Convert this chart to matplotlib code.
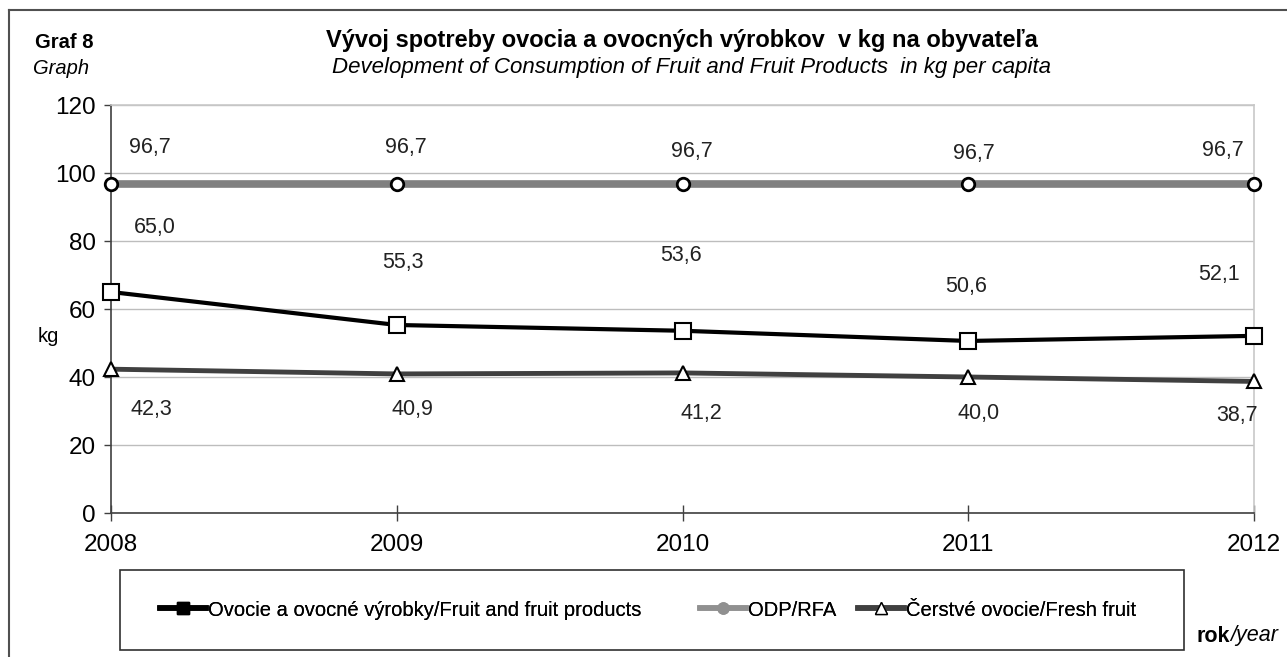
import matplotlib
matplotlib.use("Agg")
import matplotlib.pyplot as plt
from matplotlib.lines import Line2D
from matplotlib.patches import Rectangle

plt.rcParams["font.family"] = ["Liberation Sans", "DejaVu Sans"]

# ==========================================
# Data
# ==========================================

years = [2008, 2009, 2010, 2011, 2012]
fruit_products = [65.0, 55.3, 53.6, 50.6, 52.1]
odp = [96.7, 96.7, 96.7, 96.7, 96.7]
fresh_fruit = [42.3, 40.9, 41.2, 40.0, 38.7]

labels = [
    "Ovocie a ovocné výrobky/Fruit and fruit products",
    "ODP/RFA",
    "Čerstvé ovocie/Fresh fruit",
]

# label offsets in pixels (dx, dy) from each point
odp_off = [(39, 37), (9, 37), (9, 33), (6, 31), (-31, 34)]
fruit_off = [(44, 64), (6, 62), (-2, 75), (-2, 54), (-35, 61)]
fresh_off = [(40, -40), (16, -36), (19, -41), (10, -36), (-17, -34)]

# ==========================================
# Figure
# ==========================================

W, H = 1287, 657
fig = plt.figure(figsize=(W / 100, H / 100), dpi=100)
ax = fig.add_axes([111 / W, 1 - 513 / H, 1143 / W, 408 / H])


def fx(px):
    return px / W


def fy(py):
    return 1 - py / H


ax.set_xlim(2008, 2012)
ax.set_ylim(0, 120)
ax.set_xticks(years)
ax.set_yticks(range(0, 121, 20))
ax.yaxis.grid(True, color="#bdbdbd", linewidth=1)
ax.set_axisbelow(True)

for s in ["top", "right"]:
    ax.spines[s].set_color("#c8c8c8")
    ax.spines[s].set_linewidth(1.2)
for s in ["left", "bottom"]:
    ax.spines[s].set_color("#404040")
    ax.spines[s].set_linewidth(1.2)

ax.tick_params(axis="y", direction="out", length=5, width=1, color="#404040",
               labelsize=17.5, pad=6)
ax.tick_params(axis="x", direction="inout", length=12, width=1, color="#404040",
               labelsize=17.5, pad=9)

# ==========================================
# Lines
# ==========================================

ax.plot(years, odp, color="#808080", linewidth=5.5, marker="o",
        markersize=9, markerfacecolor="white", markeredgecolor="black",
        markeredgewidth=2, clip_on=False, zorder=3)

ax.plot(years, fruit_products, color="black", linewidth=3, marker="s",
        markersize=11, markerfacecolor="white", markeredgecolor="black",
        markeredgewidth=1.5, clip_on=False, zorder=4)

ax.plot(years, fresh_fruit, color="#404040", linewidth=3.5, marker="^",
        markersize=10, markerfacecolor="white", markeredgecolor="black",
        markeredgewidth=1.5, clip_on=False, zorder=4)


def fmt(v):
    return f"{v:.1f}".replace(".", ",")


for vals, offs in [(odp, odp_off), (fruit_products, fruit_off), (fresh_fruit, fresh_off)]:
    for x, v, (dx, dy) in zip(years, vals, offs):
        ax.annotate(fmt(v), (x, v), xytext=(dx, dy), textcoords="offset pixels",
                    ha="center", va="center", fontsize=15.5, color="#222222",
                    annotation_clip=False)

# ==========================================
# Texts
# ==========================================

fig.text(fx(682), fy(40), "Vývoj spotreby ovocia a ovocných výrobkov  v kg na obyvateľa",
         ha="center", va="center", fontsize=17, fontweight="bold")
fig.text(fx(692), fy(67), "Development of Consumption of Fruit and Fruit Products  in kg per capita",
         ha="center", va="center", fontsize=16, fontstyle="italic")
fig.text(fx(35), fy(43), "Graf 8", ha="left", va="center", fontsize=14.5, fontweight="bold")
fig.text(fx(33), fy(68), "Graph", ha="left", va="center", fontsize=14.5, fontstyle="italic")
fig.text(fx(48), fy(337), "kg", ha="center", va="center", fontsize=14.5)

t = fig.text(fx(1197), fy(636), "rok", ha="left", va="center", fontsize=15.5, fontweight="bold")
fig.canvas.draw()
bb = t.get_window_extent()
fig.text(bb.x1 / W, fy(636), "/year", ha="left", va="center", fontsize=15.5, fontstyle="italic")

# outer frame (top and left edges)
fig.add_artist(Line2D([fx(9), 1], [fy(10), fy(10)], color="#505050", linewidth=1.5))
fig.add_artist(Line2D([fx(9), fx(9)], [fy(10), 0], color="#505050", linewidth=1.5))

# ==========================================
# Legend
# ==========================================

fig.add_artist(Rectangle((fx(120), fy(650)), (1184 - 120) / W, (650 - 570) / H,
                         transform=fig.transFigure, fill=False,
                         edgecolor="#303030", linewidth=1.2))

handles = [
    Line2D([], [], color="black", linewidth=4, marker="s", markersize=9,
           markerfacecolor="black", markeredgecolor="black"),
    Line2D([], [], color="#909090", linewidth=4, marker="o", markersize=8,
           markerfacecolor="#909090", markeredgecolor="#909090"),
    Line2D([], [], color="#404040", linewidth=4, marker="^", markersize=9,
           markerfacecolor="white", markeredgecolor="black"),
]
legend_x = [160, 700, 858]
for h, lab, lx in zip(handles, labels, legend_x):
    leg = fig.legend([h], [lab], loc="center left", bbox_to_anchor=(fx(lx), fy(610)),
                     frameon=False, fontsize=14.5, handlelength=2.3,
                     handletextpad=0.1, borderpad=0, borderaxespad=0)
    fig.add_artist(leg)

fig.savefig("out.png", dpi=100)
